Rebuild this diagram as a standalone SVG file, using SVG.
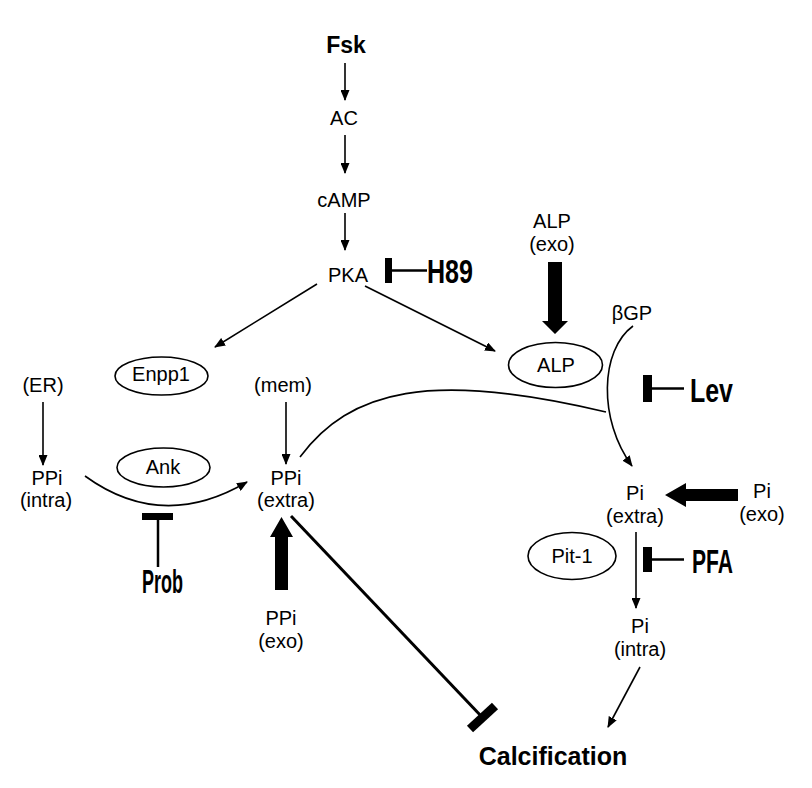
<svg xmlns="http://www.w3.org/2000/svg" width="812" height="788" viewBox="0 0 812 788">
<defs>
<style>
.t{font-family:"Liberation Sans",Arial,sans-serif;font-size:20px;fill:#000;text-anchor:middle}
.b{font-family:"Liberation Sans",Arial,sans-serif;font-weight:bold;fill:#000}
.inh{font-family:"Liberation Sans",Arial,sans-serif;font-weight:bold;font-size:34px;fill:#000}
.ln{stroke:#000;stroke-width:1.6;fill:none}
.el{stroke:#000;stroke-width:1.6;fill:#fff}
.fat{fill:#000;stroke:none}
</style>
<marker id="ah" markerUnits="userSpaceOnUse" markerWidth="11" markerHeight="9" refX="10" refY="4.5" orient="auto">
<path d="M0,0 L11,4.5 L0,9 z" fill="#000"/>
</marker>
</defs>
<rect width="812" height="788" fill="#fff"/>

<g id="connectors">
<line class="ln" x1="345" y1="63" x2="345" y2="100" marker-end="url(#ah)"/>
<line class="ln" x1="345" y1="135" x2="345" y2="173" marker-end="url(#ah)"/>
<line class="ln" x1="345" y1="213" x2="345" y2="250" marker-end="url(#ah)"/>
<line class="ln" x1="317" y1="284" x2="215" y2="347" marker-end="url(#ah)"/>
<line class="ln" x1="365" y1="286" x2="495" y2="351" marker-end="url(#ah)"/>
<line class="ln" x1="43" y1="402" x2="43" y2="465" marker-end="url(#ah)"/>
<line class="ln" x1="286" y1="402" x2="286" y2="464" marker-end="url(#ah)"/>
<path class="ln" d="M85,476 Q162,532 247,482" marker-end="url(#ah)"/>
<path class="ln" d="M300,457 C350,390 430,370 606,412"/>
<path class="ln" d="M633,326 C600,350 598,420 632,466" marker-end="url(#ah)"/>
<line class="ln" x1="636" y1="532" x2="636" y2="608" marker-end="url(#ah)"/>
<line class="ln" x1="640" y1="667" x2="608" y2="727" stroke-width="2.4" marker-end="url(#ah)"/>
<polygon class="fat" points="548,262 562,262 562,321 568,321 555,334 542,321 548,321"/>
<polygon class="fat" points="281.5,517 293,537 288,537 288,590 275,590 275,537 270,537"/>
<polygon class="fat" points="665,495 686,483 686,489 738,489 738,501 686,501 686,507"/>
<line x1="291" y1="516" x2="482" y2="717" stroke="#000" stroke-width="3"/>
<line x1="470" y1="729" x2="495" y2="706" stroke="#000" stroke-width="9"/>
<rect x="385" y="258" width="7" height="25" fill="#000"/>
<line x1="391" y1="270.5" x2="427" y2="270.5" stroke="#000" stroke-width="2.5"/>
<rect x="643" y="375" width="9" height="27" fill="#000"/>
<line x1="652" y1="388.5" x2="684" y2="388.5" stroke="#000" stroke-width="2.5"/>
<rect x="643" y="547" width="9" height="25" fill="#000"/>
<line x1="652" y1="559.5" x2="684" y2="559.5" stroke="#000" stroke-width="2.5"/>
<rect x="142" y="513" width="31" height="7" fill="#000"/>
<line x1="158" y1="520" x2="158" y2="567" stroke="#000" stroke-width="2.5"/>
</g>

<g id="fsk"><text class="b" x="346" y="53" font-size="23" text-anchor="middle">Fsk</text></g>
<g id="ac"><text class="t" x="344" y="125">AC</text></g>
<g id="camp"><text class="t" x="344" y="207">cAMP</text></g>
<g id="pka"><text class="t" x="348" y="282">PKA</text></g>
<g id="h89"><text class="inh" x="427" y="283" textLength="46" lengthAdjust="spacingAndGlyphs">H89</text></g>
<g id="alp-exo"><text class="t" x="552" y="228">ALP</text><text class="t" x="552" y="251">(exo)</text></g>
<g id="bgp"><text class="t" x="632" y="320">βGP</text></g>
<g id="enpp1"><ellipse class="el" cx="161.5" cy="376" rx="46.5" ry="19"/><text class="t" x="161" y="381">Enpp1</text></g>
<g id="alp"><ellipse class="el" cx="555.5" cy="365" rx="47" ry="22.5"/><text class="t" x="556" y="372">ALP</text></g>
<g id="lev"><text class="inh" x="690" y="402" textLength="43" lengthAdjust="spacingAndGlyphs">Lev</text></g>
<g id="er"><text class="t" x="43" y="392">(ER)</text></g>
<g id="mem"><text class="t" x="283" y="392">(mem)</text></g>
<g id="ppi-intra"><text class="t" x="47" y="485">PPi</text><text class="t" x="46" y="507">(intra)</text></g>
<g id="ank"><ellipse class="el" cx="163.5" cy="467.5" rx="46.5" ry="19.5"/><text class="t" x="163" y="474">Ank</text></g>
<g id="ppi-extra"><text class="t" x="286" y="485">PPi</text><text class="t" x="286" y="507">(extra)</text></g>
<g id="prob"><text class="inh" x="142" y="593" textLength="41" lengthAdjust="spacingAndGlyphs">Prob</text></g>
<g id="ppi-exo"><text class="t" x="281" y="625">PPi</text><text class="t" x="281" y="648">(exo)</text></g>
<g id="pi-extra"><text class="t" x="635" y="500">Pi</text><text class="t" x="635" y="523">(extra)</text></g>
<g id="pi-exo"><text class="t" x="762" y="498">Pi</text><text class="t" x="762" y="521">(exo)</text></g>
<g id="pit1"><ellipse class="el" cx="572" cy="556" rx="44" ry="23.5"/><text class="t" x="572" y="563">Pit-1</text></g>
<g id="pfa"><text class="inh" x="692" y="573" textLength="41" lengthAdjust="spacingAndGlyphs">PFA</text></g>
<g id="pi-intra"><text class="t" x="640" y="633">Pi</text><text class="t" x="640" y="656">(intra)</text></g>
<g id="calcification"><text class="b" x="553" y="765" font-size="25" text-anchor="middle">Calcification</text></g>
</svg>
